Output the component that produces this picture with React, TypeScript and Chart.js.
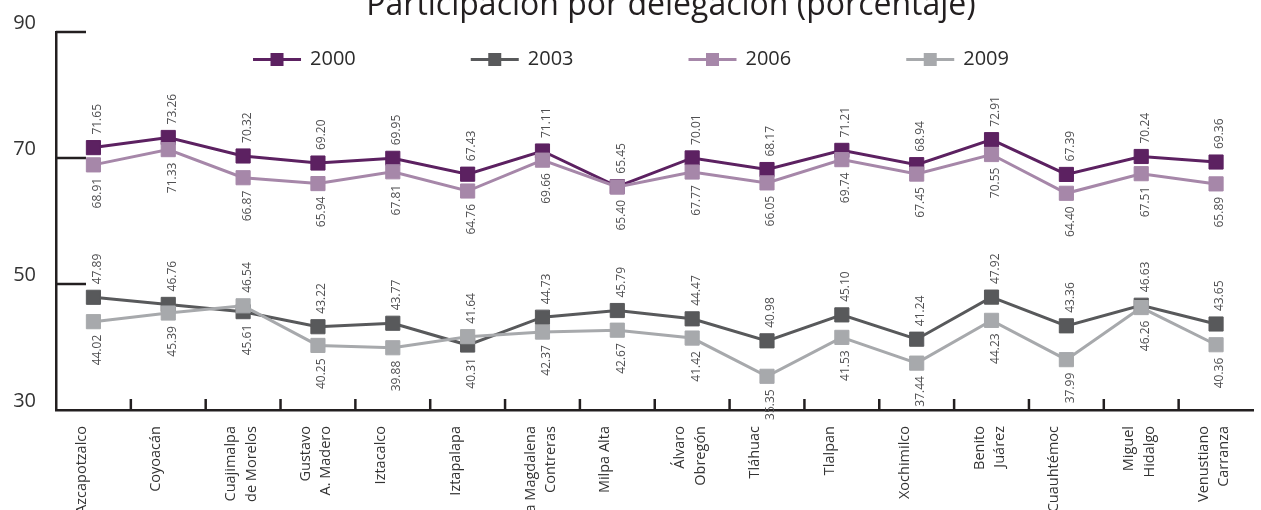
import React, { useEffect, useRef } from "react";
import { Chart, registerables } from "chart.js";

Chart.register(...registerables);

const TITLE = "Participación por delegación (porcentaje)";

const delegaciones: string[][] = [
  ["Azcapotzalco"],
  ["Coyoacán"],
  ["Cuajimalpa", "de Morelos"],
  ["Gustavo", "A. Madero"],
  ["Iztacalco"],
  ["Iztapalapa"],
  ["La Magdalena", "Contreras"],
  ["Milpa Alta"],
  ["Álvaro", "Obregón"],
  ["Tláhuac"],
  ["Tlalpan"],
  ["Xochimilco"],
  ["Benito", "Juárez"],
  ["Cuauhtémoc"],
  ["Miguel", "Hidalgo"],
  ["Venustiano", "Carranza"],
];

const seriesNames = ["2000", "2003", "2006", "2009"];

const v2000 = [71.65, 73.26, 70.32, 69.2, 69.95, 67.43, 71.11, 65.45, 70.01, 68.17, 71.21, 68.94, 72.91, 67.39, 70.24, 69.36];
const v2003 = [47.89, 46.76, 45.61, 43.22, 43.77, 40.31, 44.73, 45.79, 44.47, 40.98, 45.1, 41.24, 47.92, 43.36, 46.63, 43.65];
const v2006 = [68.91, 71.33, 66.87, 65.94, 67.81, 64.76, 69.66, 65.4, 67.77, 66.05, 69.74, 67.45, 70.55, 64.4, 67.51, 65.89];
const v2009 = [44.02, 45.39, 46.54, 40.25, 39.88, 41.64, 42.37, 42.67, 41.42, 35.35, 41.53, 37.44, 44.23, 37.99, 46.26, 40.36];

const yTicks = [30, 50, 70, 90];

const seriesColors = ["#5c2161", "#58595b", "#a687a9", "#a7a9ac"];
const AXIS = "#231f20";
const FONT = "'Open Sans', 'Noto Sans', sans-serif";

const decorPlugin = {
  id: "decor",
  beforeDatasetsDraw(chart: any) {
    const { ctx, chartArea, scales } = chart;
    const x = scales.x;
    const y = scales.y;
    ctx.save();
    ctx.strokeStyle = AXIS;
    ctx.lineWidth = 2.5;
    ctx.lineCap = "butt";
    // inward ticks on the value axis
    y.ticks.forEach((_t: any, i: number) => {
      const py = y.getPixelForTick(i);
      if (py >= chartArea.bottom - 2) return;
      ctx.beginPath();
      ctx.moveTo(chartArea.left, py);
      ctx.lineTo(chartArea.left + 30, py);
      ctx.stroke();
    });
    // inward ticks at category boundaries
    for (let i = 1; i < x.ticks.length; i++) {
      const px = (x.getPixelForTick(i - 1) + x.getPixelForTick(i)) / 2;
      ctx.beginPath();
      ctx.moveTo(px, chartArea.bottom);
      ctx.lineTo(px, chartArea.bottom - 11);
      ctx.stroke();
    }
    ctx.restore();
  },
  afterDatasetsDraw(chart: any) {
    const { ctx } = chart;
    ctx.save();
    ctx.font = `12px ${FONT}`;
    ctx.fillStyle = "#505052";
    ctx.textBaseline = "middle";
    const datasets = chart.data.datasets;
    datasets.forEach((ds: any, di: number) => {
      const partner = datasets[di ^ 2];
      const meta = chart.getDatasetMeta(di);
      meta.data.forEach((pt: any, j: number) => {
        const v = ds.data[j];
        const pv = partner.data[j];
        const above = di < 2 ? v >= pv : v > pv;
        ctx.save();
        ctx.translate(pt.x + 4, above ? pt.y - 13 : pt.y + 13);
        ctx.rotate(-Math.PI / 2);
        ctx.textAlign = above ? "left" : "right";
        ctx.fillText(v.toFixed(2), 0, 0);
        ctx.restore();
      });
    });
    ctx.restore();
  },
  afterDraw(chart: any) {
    const { ctx } = chart;
    ctx.save();
    // title
    ctx.font = `32px ${FONT}`;
    ctx.fillStyle = AXIS;
    ctx.textAlign = "center";
    ctx.textBaseline = "alphabetic";
    ctx.fillText(TITLE, 671, 15);
    // legend
    ctx.font = `20px ${FONT}`;
    const lineLen = 48;
    const gapText = 9;
    const itemGap = 115;
    const ly = 59.5;
    const widths = seriesNames.map((n) => lineLen + gapText + ctx.measureText(n).width);
    const total = widths.reduce((a, b) => a + b, 0) + itemGap * (seriesNames.length - 1);
    let lx = 631 - total / 2;
    seriesNames.forEach((name, i) => {
      const c = seriesColors[i];
      ctx.strokeStyle = c;
      ctx.lineWidth = 3;
      ctx.beginPath();
      ctx.moveTo(lx, ly);
      ctx.lineTo(lx + lineLen, ly);
      ctx.stroke();
      ctx.fillStyle = c;
      ctx.fillRect(lx + lineLen / 2 - 6.5, ly - 6.5, 13, 13);
      ctx.fillStyle = "#2b2b2b";
      ctx.textAlign = "left";
      ctx.textBaseline = "middle";
      ctx.fillText(name, lx + lineLen + gapText, ly);
      lx += widths[i] + itemGap;
    });
    ctx.restore();
  },
};

export default function App() {
  const ref = useRef<HTMLCanvasElement>(null);

  useEffect(() => {
    const series = [v2000, v2003, v2006, v2009];
    const chart = new Chart(ref.current as HTMLCanvasElement, {
      type: "line",
      data: {
        labels: delegaciones,
        datasets: series.map((vals, i) => ({
          label: seriesNames[i],
          data: vals,
          borderColor: seriesColors[i],
          backgroundColor: seriesColors[i],
          pointBackgroundColor: seriesColors[i],
          pointBorderColor: seriesColors[i],
          pointBorderWidth: 1,
          borderWidth: 3,
          pointStyle: "rect",
          pointRadius: 10,
          tension: 0,
          fill: false,
          order: i < 2 ? 2 : 1,
        })),
      },
      options: {
        responsive: false,
        maintainAspectRatio: false,
        animation: false,
        devicePixelRatio: 1,
        layout: { padding: { top: 30, left: 0, right: 0, bottom: 0 } },
        plugins: {
          legend: { display: false },
          title: { display: false },
          tooltip: { enabled: false },
        },
        events: [],
        scales: {
          x: {
            type: "category",
            offset: true,
            grid: { display: true, drawOnChartArea: false, drawTicks: false },
            border: { display: true, color: AXIS, width: 2.5 },
            ticks: {
              autoSkip: false,
              maxRotation: 90,
              minRotation: 90,
              padding: 16,
              labelOffset: -12,
              color: "#333333",
              font: { family: FONT, size: 14.5, lineHeight: 1.4 },
            },
            afterFit: (s: any) => {
              s.height = 120;
            },
          },
          y: {
            type: "linear",
            min: yTicks[0],
            max: yTicks[yTicks.length - 1],
            afterBuildTicks: (s: any) => {
              s.ticks = yTicks.map((v) => ({ value: v }));
            },
            grid: { display: true, drawOnChartArea: false, drawTicks: false },
            border: { display: true, color: AXIS, width: 2.5 },
            ticks: {
              padding: 20,
              labelOffset: -9,
              color: "#333333",
              font: { family: FONT, size: 20 },
            },
            afterFit: (s: any) => {
              s.width = 56;
            },
          },
        },
      },
      plugins: [decorPlugin],
    } as any);
    return () => chart.destroy();
  }, []);

  return (
    <div
      style={{
        position: "fixed",
        left: 0,
        top: 0,
        width: 1261,
        height: 510,
        overflow: "hidden",
        background: "#ffffff",
      }}
    >
      <canvas ref={ref} width={1273} height={530} style={{ display: "block", width: 1273, height: 530 }} />
    </div>
  );
}
